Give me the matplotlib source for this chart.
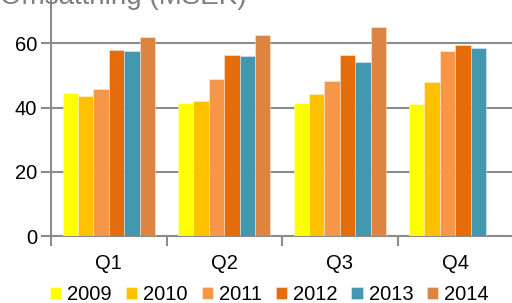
import matplotlib
matplotlib.use("Agg")
import matplotlib.pyplot as plt
import numpy as np

plt.rcParams['font.family'] = ['Liberation Sans', 'DejaVu Sans']

quarters = ["Q1", "Q2", "Q3", "Q4"]
years = ["2009", "2010", "2011", "2012", "2013", "2014"]
v2009 = [44.6, 41.5, 41.4, 41.1]
v2010 = [43.6, 42.1, 44.3, 48.1]
v2011 = [45.9, 49.0, 48.3, 57.6]
v2012 = [58.0, 56.5, 56.4, 59.6]
v2013 = [57.7, 56.2, 54.2, 58.5]
v2014 = [62.1, 62.7, 65.1, np.nan]
series = [v2009, v2010, v2011, v2012, v2013, v2014]
colors = ["#FFFF00", "#FFC000", "#F79646", "#E46C0A", "#4198AF", "#DD8441"]

W, H = 512, 303
fig = plt.figure(figsize=(W / 100, H / 100), dpi=100)
left, right, bottom_px = 51, 513, 236
ax = fig.add_axes([left / W, (H - bottom_px) / H, (right - left) / W, bottom_px / H])

n = len(series)
group_w = 0.8
bw = group_w / n
x = np.arange(len(quarters))
for i, (vals, c, yr) in enumerate(zip(series, colors, years)):
    ax.bar(x - group_w / 2 + bw * (i + 0.5), vals, width=bw, color=c,
           edgecolor=(1, 1, 1, 0.45), linewidth=0.6, label=yr, zorder=3)

ax.set_xlim(-0.5, len(quarters) - 0.5)
ax.set_ylim(0, 73.5)
ax.set_yticks([0, 20, 40, 60])
ax.set_xticks(x)
ax.set_xticklabels(quarters)
ax.set_xticks(np.arange(len(quarters) + 1) - 0.5, minor=True)
ax.tick_params(axis='x', which='major', length=0, pad=13, labelsize=14.5)
ax.tick_params(axis='x', which='minor', length=7, width=1.5, color='#8C8C8C')
ax.tick_params(axis='y', length=7, width=1.5, color='#8C8C8C', labelsize=14.5, pad=3)
ax.grid(axis='y', color='#8C8C8C', linewidth=1.5, zorder=0)
for s in ['top', 'right']:
    ax.spines[s].set_visible(False)
for s in ['left', 'bottom']:
    ax.spines[s].set_color('#8C8C8C')
    ax.spines[s].set_linewidth(1.5)

fig.text(0.0, 1 - 4 / H, "Omsättning (MSEK)", fontsize=20, color='#7F7F7F',
         ha='left', va='baseline')

fig.legend(loc='center', bbox_to_anchor=(269.5 / W, 1 - 295 / H), ncol=6,
           frameon=False, fontsize=14.5, handlelength=0.55, handleheight=0.55,
           handletextpad=0.3, columnspacing=0.7, borderaxespad=0, borderpad=0)

fig.savefig("out.png", dpi=100)
